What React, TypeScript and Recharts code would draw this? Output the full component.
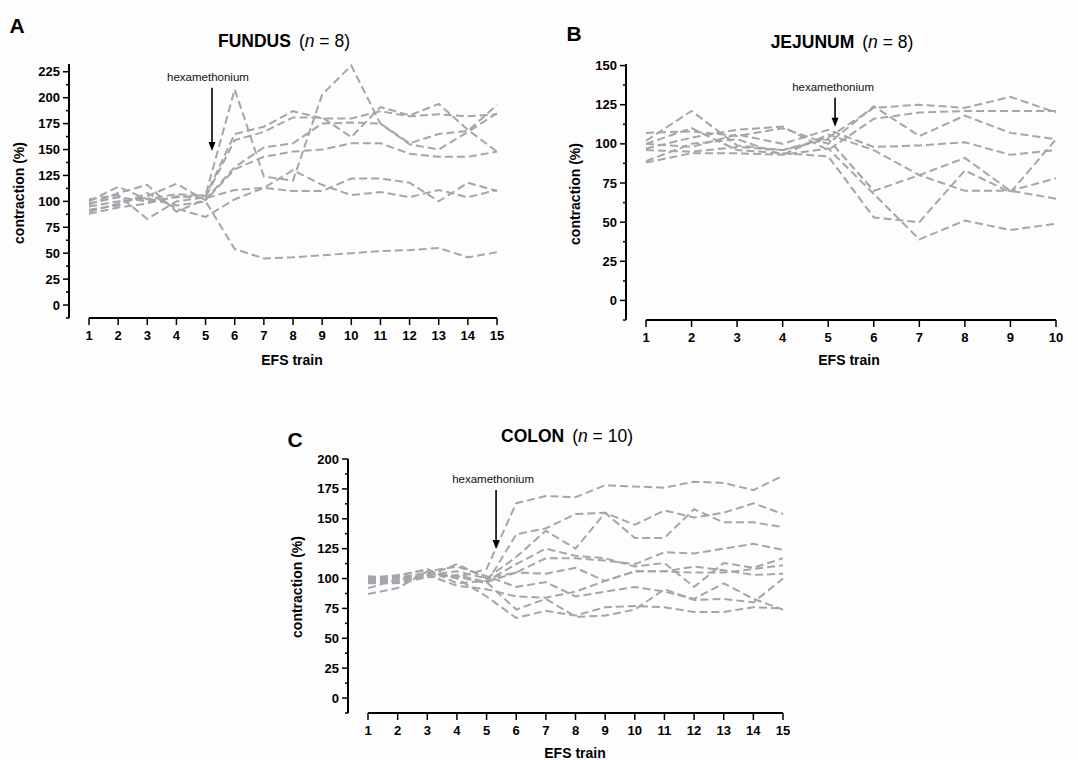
import React from 'react';
import { LineChart, Line, XAxis, YAxis, ReferenceLine } from 'recharts';

// EFS train numbers
const fundusTrains = [1, 2, 3, 4, 5, 6, 7, 8, 9, 10, 11, 12, 13, 14, 15];
const jejunumTrains = [1, 2, 3, 4, 5, 6, 7, 8, 9, 10];
const colonTrains = [1, 2, 3, 4, 5, 6, 7, 8, 9, 10, 11, 12, 13, 14, 15];

// Fundus strips, contraction (%) per EFS train
const fundus1 = [95, 100, 103, 96, 100, 54, 45, 46, 48, 50, 52, 53, 55, 46, 51];
const fundus2 = [98, 104, 100, 104, 106, 208, 124, 120, 203, 231, 175, 155, 150, 167, 185];
const fundus3 = [92, 96, 108, 93, 85, 102, 113, 130, 116, 106, 109, 104, 111, 104, 111];
const fundus4 = [88, 94, 98, 105, 103, 111, 113, 110, 110, 122, 122, 118, 100, 118, 110];
const fundus5 = [100, 114, 102, 107, 105, 165, 172, 187, 180, 180, 187, 182, 184, 182, 184];
const fundus6 = [102, 106, 83, 100, 104, 159, 167, 181, 181, 162, 191, 183, 194, 169, 148];
const fundus7 = [97, 108, 116, 90, 102, 133, 152, 156, 175, 176, 175, 156, 165, 168, 193];
const fundus8 = [90, 98, 105, 117, 101, 131, 143, 148, 150, 156, 156, 146, 143, 143, 148];

// Jejunum strips
const jejunum1 = [107, 108, 105, 110, 100, 124, 105, 118, 107, 103];
const jejunum2 = [102, 121, 99, 96, 104, 123, 125, 123, 130, 120];
const jejunum3 = [97, 104, 109, 111, 96, 116, 120, 121, 121, 121];
const jejunum4 = [100, 98, 106, 100, 109, 98, 99, 101, 93, 96];
const jejunum5 = [89, 100, 103, 93, 106, 96, 80, 70, 70, 78];
const jejunum6 = [96, 95, 98, 96, 103, 70, 80, 91, 70, 65];
const jejunum7 = [88, 94, 94, 93, 97, 68, 39, 51, 45, 49];
const jejunum8 = [100, 110, 96, 94, 92, 53, 50, 83, 69, 103];

// Colon strips
const colon1 = [98, 100, 105, 101, 108, 163, 169, 168, 178, 177, 176, 181, 180, 174, 186];
const colon2 = [100, 101, 104, 102, 96, 137, 142, 154, 155, 145, 157, 151, 155, 163, 154];
const colon3 = [97, 98, 103, 106, 100, 118, 140, 125, 155, 134, 134, 158, 147, 147, 143];
const colon4 = [101, 102, 108, 96, 98, 112, 125, 119, 117, 110, 113, 93, 113, 109, 117];
const colon5 = [99, 97, 102, 112, 100, 105, 117, 117, 115, 112, 122, 121, 125, 129, 124];
const colon6 = [96, 96, 101, 103, 97, 105, 104, 109, 98, 106, 106, 110, 107, 103, 104];
const colon7 = [87, 92, 106, 110, 102, 93, 97, 85, 89, 93, 89, 83, 96, 83, 74];
const colon8 = [92, 99, 103, 94, 91, 85, 84, 89, 98, 106, 106, 105, 105, 108, 111];
const colon9 = [102, 100, 104, 101, 97, 74, 83, 68, 69, 74, 91, 82, 83, 80, 100];
const colon10 = [100, 103, 107, 100, 85, 67, 73, 69, 76, 77, 76, 72, 72, 76, 75];

// Axis ticks (majors labelled, halves drawn as minor ticks)
const fundusYTicks = [-12.5, 0, 12.5, 25, 37.5, 50, 62.5, 75, 87.5, 100, 112.5, 125, 137.5, 150, 162.5, 175, 187.5, 200, 212.5, 225];
const jejunumYTicks = [-12.5, 0, 12.5, 25, 37.5, 50, 62.5, 75, 87.5, 100, 112.5, 125, 137.5, 150];
const colonYTicks = [-12.5, 0, 12.5, 25, 37.5, 50, 62.5, 75, 87.5, 100, 112.5, 125, 137.5, 150, 162.5, 175, 187.5, 200];

const buildRows = (trains: number[], series: number[][]) =>
  trains.map((t, i) => {
    const row: Record<string, number> = { train: t };
    series.forEach((s, k) => {
      row['s' + k] = s[i];
    });
    return row;
  });

const FONT = '"Liberation Sans", Arial, Helvetica, sans-serif';
const LINE_COLOR = '#a5a5ab';

const YTick = (props: any) => {
  const { x, y, payload } = props;
  const axisX = x + 10;
  const v = payload.value;
  const major = Math.abs(v % 25) < 1e-6;
  return (
    <g>
      <line x1={axisX - (major ? 6 : 3)} y1={y} x2={axisX} y2={y} stroke="#000" strokeWidth={1.5} />
      {major && (
        <text x={axisX - 9} y={y} dy="0.35em" textAnchor="end" fontFamily={FONT} fontSize={13} fontWeight="bold" fill="#000">
          {v}
        </text>
      )}
    </g>
  );
};

const makeArrow = (dx: number) => (props: any) => {
  const { x1, y1, x2, y2 } = props;
  return (
    <g>
      <text x={x1 + dx} y={y1 - 11} dy="0.35em" textAnchor="middle" fontFamily={FONT} fontSize={11.5} fill="#111">
        hexamethonium
      </text>
      <line x1={x1} y1={y1} x2={x2} y2={y2 - 8} stroke="#000" strokeWidth={1.6} />
      <polygon points={`${x2 - 3.5},${y2 - 9} ${x2 + 3.5},${y2 - 9} ${x2},${y2}`} fill="#000" />
    </g>
  );
};

type PanelProps = {
  left: number;
  top: number;
  width: number;
  height: number;
  margin: { top: number; right: number; bottom: number; left: number };
  trains: number[];
  series: number[][];
  yDomain: [number, number];
  yTicks: number[];
  arrowX: number;
  arrowFrom: number;
  arrowTo: number;
  arrowTextDx: number;
  letter: string;
  letterPos: [number, number];
  name: string;
  n: number;
  titlePos: [number, number];
  yLabelPos: [number, number];
  xLabelPos: [number, number];
};

const abs = (x: number, y: number): React.CSSProperties => ({
  position: 'absolute',
  left: x,
  top: y,
  transform: 'translate(-50%, -50%)',
  whiteSpace: 'nowrap',
  fontFamily: FONT,
  color: '#000',
  lineHeight: 1,
});

const Panel = (p: PanelProps) => {
  const rows = buildRows(p.trains, p.series);
  const xMin = p.trains[0];
  const xMax = p.trains[p.trains.length - 1];
  return (
    <>
      <div style={{ position: 'absolute', left: p.left, top: p.top, width: p.width, height: p.height }}>
        <LineChart width={p.width} height={p.height} data={rows} margin={p.margin}>
          <XAxis
            type="number"
            dataKey="train"
            domain={[xMin, xMax]}
            ticks={p.trains}
            padding={{ left: 20, right: 0 }}
            axisLine={false}
            tickLine={{ stroke: '#000', strokeWidth: 1.5 }}
            tickSize={7}
            tickMargin={6}
            height={30}
            tick={{ fontFamily: FONT, fontSize: 13, fontWeight: 'bold', fill: '#000' }}
            interval={0}
          />
          <YAxis
            type="number"
            domain={p.yDomain}
            ticks={p.yTicks}
            allowDataOverflow
            width={50}
            axisLine={{ stroke: '#000', strokeWidth: 2 }}
            tickLine={false}
            tickSize={6}
            tickMargin={4}
            tick={<YTick />}
            interval={0}
          />
          <ReferenceLine
            segment={[
              { x: xMin, y: p.yDomain[0] },
              { x: xMax, y: p.yDomain[0] },
            ]}
            stroke="#000"
            strokeWidth={2}
            ifOverflow="visible"
          />
          {p.series.map((_, k) => (
            <Line
              key={k}
              type="linear"
              dataKey={'s' + k}
              stroke={LINE_COLOR}
              strokeWidth={2}
              strokeDasharray="8 4"
              dot={false}
              activeDot={false}
              isAnimationActive={false}
            />
          ))}
          <ReferenceLine
            segment={[
              { x: p.arrowX, y: p.arrowFrom },
              { x: p.arrowX, y: p.arrowTo },
            ]}
            shape={makeArrow(p.arrowTextDx)}
            ifOverflow="visible"
          />
        </LineChart>
      </div>
      <div style={{ ...abs(p.letterPos[0], p.letterPos[1]), fontSize: 21, fontWeight: 'bold' }}>{p.letter}</div>
      <div style={{ ...abs(p.titlePos[0], p.titlePos[1]), fontSize: 17.5 }}>
        <span style={{ fontWeight: 'bold' }}>{p.name}</span>
        <span style={{ marginLeft: 8 }}>
          {'('}
          <i>n</i>
          {` = ${p.n})`}
        </span>
      </div>
      <div
        style={{
          ...abs(p.yLabelPos[0], p.yLabelPos[1]),
          transform: 'translate(-50%, -50%) rotate(-90deg)',
          fontSize: 14,
          fontWeight: 'bold',
        }}
      >
        contraction (%)
      </div>
      <div style={{ ...abs(p.xLabelPos[0], p.xLabelPos[1]), fontSize: 14, fontWeight: 'bold' }}>EFS train</div>
    </>
  );
};

export default function App() {
  return (
    <div
      style={{
        position: 'absolute',
        left: 0,
        top: 0,
        width: 1078,
        height: 760,
        background: '#fdfdfd',
        overflow: 'hidden',
      }}
    >
      <Panel
        left={0}
        top={0}
        width={540}
        height={380}
        margin={{ top: 64, right: 43, bottom: 32, left: 19 }}
        trains={fundusTrains}
        series={[fundus1, fundus2, fundus3, fundus4, fundus5, fundus6, fundus7, fundus8]}
        yDomain={[-12.5, 232.5]}
        yTicks={fundusYTicks}
        arrowX={5.22}
        arrowFrom={209.5}
        arrowTo={148.6}
        arrowTextDx={-4}
        letter="A"
        letterPos={[17, 25]}
        name="FUNDUS"
        n={8}
        titlePos={[284, 42]}
        yLabelPos={[19, 193]}
        xLabelPos={[292, 360]}
      />
      <Panel
        left={540}
        top={0}
        width={538}
        height={380}
        margin={{ top: 64, right: 22, bottom: 30, left: 36 }}
        trains={jejunumTrains}
        series={[jejunum1, jejunum2, jejunum3, jejunum4, jejunum5, jejunum6, jejunum7, jejunum8]}
        yDomain={[-12.5, 151]}
        yTicks={jejunumYTicks}
        arrowX={5.15}
        arrowFrom={129.5}
        arrowTo={110.9}
        arrowTextDx={-2}
        letter="B"
        letterPos={[574, 33]}
        name="JEJUNUM"
        n={8}
        titlePos={[842, 43]}
        yLabelPos={[575, 194]}
        xLabelPos={[849, 360]}
      />
      <Panel
        left={280}
        top={380}
        width={530}
        height={380}
        margin={{ top: 79, right: 27, bottom: 17, left: 18 }}
        trains={colonTrains}
        series={[colon1, colon2, colon3, colon4, colon5, colon6, colon7, colon8, colon9, colon10]}
        yDomain={[-12.5, 200]}
        yTicks={colonYTicks}
        arrowX={5.32}
        arrowFrom={174}
        arrowTo={124.7}
        arrowTextDx={-3}
        letter="C"
        letterPos={[295, 439]}
        name="COLON"
        n={10}
        titlePos={[567, 437]}
        yLabelPos={[297, 587]}
        xLabelPos={[575, 753]}
      />
    </div>
  );
}
